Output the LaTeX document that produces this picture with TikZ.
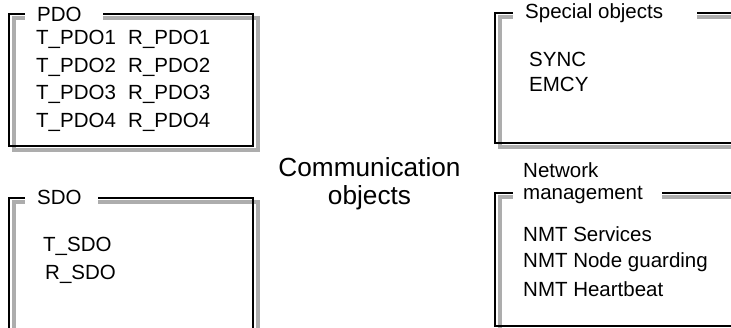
\documentclass[tikz,border=0pt]{standalone}
\usepackage{fontspec}
\setmainfont{Liberation Sans}
\begin{document}
\begin{tikzpicture}[x=1pt,y=-1pt,line join=miter,
    shadeline/.style={draw=black!32,line width=4pt},
    frameline/.style={draw=black,line width=2.6pt},
    txt/.style={anchor=base west,inner sep=0pt,font=\fontsize{20.5}{27.5}\selectfont},
    big/.style={inner sep=0pt,align=center,font=\fontsize{26.2}{28}\selectfont}]
    \clip (0,0) rectangle (731,328);
    \fill[white] (0,0) rectangle (731,328);
    % PDO
    \draw [shadeline] (103,18.5) -- (257.5,18.5) -- (257.5,150.5) -- (13.5,150.5) -- (13.5,18.5) -- (25,18.5);
    \draw [frameline] (103,14) -- (253,14) -- (253,146) -- (9,146) -- (9,14) -- (25,14);
    \node [txt] (pdo) at (37,22) {PDO};
    \node [txt] (tpdo1) at (36,45) {T\_PDO1};
    \node [txt] (rpdo1) at (128,45) {R\_PDO1};
    \node [txt] (tpdo2) at (36,73) {T\_PDO2};
    \node [txt] (rpdo2) at (128,73) {R\_PDO2};
    \node [txt] (tpdo3) at (36,100) {T\_PDO3};
    \node [txt] (rpdo3) at (128,100) {R\_PDO3};
    \node [txt] (tpdo4) at (36,128) {T\_PDO4};
    \node [txt] (rpdo4) at (128,128) {R\_PDO4};
    % SDO
    \draw [shadeline] (98,202.5) -- (257.5,202.5) -- (257.5,340) -- (13.5,340) -- (13.5,202.5) -- (25,202.5);
    \draw [frameline] (98,198) -- (253,198) -- (253,335) -- (9,335) -- (9,198) -- (25,198);
    \node [txt] (sdo) at (37,205) {SDO};
    \node [txt] (tsdo) at (43,252) {T\_SDO};
    \node [txt] (rsdo) at (45,280) {R\_SDO};
    % Special objects
    \draw [shadeline] (697,17.5) -- (740,17.5);
    \draw [shadeline] (740,147.5) -- (499.5,147.5) -- (499.5,17.5) -- (513,17.5);
    \draw [frameline] (697,13) -- (740,13);
    \draw [frameline] (740,143) -- (495,143) -- (495,13) -- (513,13);
    \node [txt] (special) at (525,19) {Special objects};
    \node [txt] (sync) at (529,67) {SYNC};
    \node [txt] (emcy) at (529,92) {EMCY};
    % Network management
    \draw [shadeline] (662,197.5) -- (740,197.5);
    \draw [shadeline] (740,330.5) -- (499.5,330.5) -- (499.5,197.5) -- (513,197.5);
    \draw [frameline] (662,193) -- (740,193);
    \draw [frameline] (740,326) -- (495,326) -- (495,193) -- (513,193);
    \node [txt,align=left,font=\fontsize{20.5}{22}\selectfont] (nmt) at (523,200) {Network\\management};
    \node [txt] (nmtserv) at (523,242) {NMT Services};
    \node [txt] (nmtguard) at (523,268) {NMT Node guarding};
    \node [txt] (nmtheart) at (523,297) {NMT Heartbeat};
    % centre
    \node [big,anchor=base] (comm) at (369.5,205) {Communication\\objects};
\end{tikzpicture}
\end{document}
